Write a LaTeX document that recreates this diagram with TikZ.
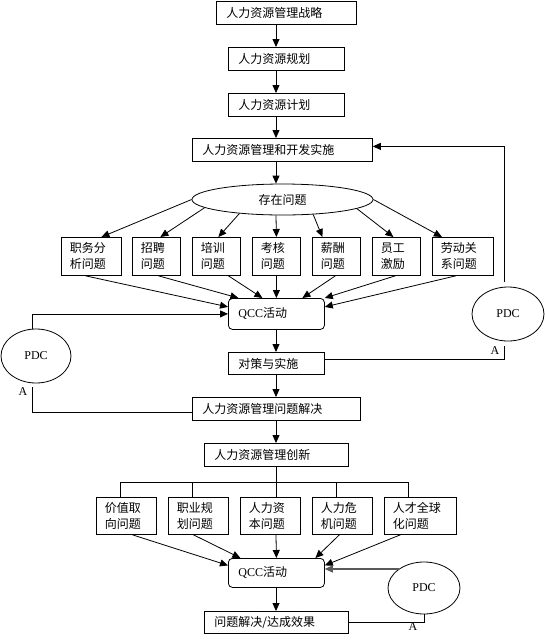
\documentclass[tikz,border=0pt]{standalone}
\usepackage{fontspec}
\setmainfont{Noto Sans CJK SC}
\newfontfamily\lat{Liberation Serif}
\usetikzlibrary{arrows.meta,shapes.geometric,calc}
\setlength{\parindent}{0pt}
\begin{document}
\begin{tikzpicture}[x=1pt,y=-1pt,
  ln/.style={line width=0.8pt},
  arr/.style={ln,-{Triangle[length=8pt,width=7pt]}},
  box/.style={draw,ln,anchor=north west,inner xsep=10pt,inner ysep=0pt,align=left,font=\fontsize{12}{16}\selectfont},
  sbox/.style={box,inner xsep=8.5pt},
  rbox/.style={box,rounded corners=4pt},
  sz/.style 2 args={text width=#1pt,minimum height=#2pt},
  ell/.style={draw,ln,ellipse,inner sep=0pt,font=\fontsize{12}{14}\selectfont},
  pdc/.style={ell,font=\lat\fontsize{12}{14}\selectfont},
  lab/.style={font=\lat\fontsize{12}{14}\selectfont,inner sep=0pt}
]
\useasboundingbox (0,0) rectangle (545,641);
\coordinate (ax) at (276,0);
\coordinate (rx) at (504,0);
\coordinate (lx) at (32,0);
% main column
\node[box,sz={120}{23}] (b1) at (216,1) {人力资源管理战略};
\node[box,sz={96}{23}] (b2) at (228,47) {人力资源规划};
\node[box,sz={96}{23}] (b3) at (228,93) {人力资源计划};
\node[box,sz={160}{23}] (b4) at (192,138) {人力资源管理和开发实施};
\node[ell,minimum width=181pt,minimum height=31pt] (ell) at (282.5,199.5) {存在问题};
% problem boxes
\node[sbox,sz={43}{38}] (A1) at (61,237) {职务分\\析问题};
\node[sbox,sz={31}{38}] (A2) at (132,237) {招聘\\问题};
\node[sbox,sz={31}{38}] (A3) at (192,237) {培训\\问题};
\node[sbox,sz={31}{38}] (A4) at (252,237) {考核\\问题};
\node[sbox,sz={31}{38}] (A5) at (312,237) {薪酬\\问题};
\node[sbox,sz={31}{38}] (A6) at (372,237) {员工\\激励};
\node[sbox,sz={44}{38}] (A7) at (432,237) {劳动关\\系问题};
\node[rbox,sz={76}{31}] (q1) at (228,298) {{\lat QCC}活动};
\node[box,sz={76}{22}] (dc) at (228,352) {对策与实施};
\node[box,sz={148}{23}] (jj) at (192,397) {人力资源管理问题解决};
\node[box,sz={124}{23}] (cx) at (204,443) {人力资源管理创新};
\coordinate (tr) at (276,482);
\node[sbox,sz={43}{37}] (B1) at (96,497) {价值取\\向问题};
\node[sbox,sz={43}{37}] (B2) at (168,497) {职业规\\划问题};
\node[sbox,sz={43}{37}] (B3) at (240,497) {人力资\\本问题};
\node[sbox,sz={43}{37}] (B4) at (312,497) {人力危\\机问题};
\node[sbox,sz={55}{37}] (B5) at (384,497) {人才全球\\化问题};
\node[rbox,sz={76}{29}] (q2) at (228,558) {{\lat QCC}活动};
\node[box,sz={124}{22}] (fin) at (204,611) {问题解决/达成效果};
% PDC ellipses
\node[pdc,minimum width=70pt,minimum height=54pt] (pdcL) at (36,356) {PDC};
\node[pdc,minimum width=72pt,minimum height=54pt] (pdcR) at (508,314) {PDC};
\node[pdc,minimum width=72pt,minimum height=52pt] (pdc3) at (424,588) {PDC};
\node[lab] (aR) at (495,351) {A};
\node[lab] (aL) at (23,392) {A};
\node[lab] (a3) at (413,627) {A};
% main arrows
\draw[arr] (b1.south -| ax) -- (b2.north -| ax);
\draw[arr] (b2.south -| ax) -- (b3.north -| ax);
\draw[arr] (b3.south -| ax) -- (b4.north -| ax);
\draw[arr] (b4.south -| ax) -- (ell.north -| ax);
% ellipse to problems
\draw[arr] (ell.180) -- ([xshift=10pt]A1.north);
\draw[arr] (ell.186.3) -- ([xshift=4pt]A2.north);
\draw[arr] (ell.198.8) -- ([xshift=2pt]A3.north);
\draw[arr] (ell.south -| ax) -- (A4.north);
\draw[arr] (ell.334.6) -- ([xshift=-14pt]A5.north);
\draw[arr] (ell.353.8) -- ([xshift=-3pt]A6.north);
\draw[arr] (ell.0) -- ([xshift=-21pt]A7.north);
% problems to QCC
\draw[arr] ([xshift=-6pt]A1.south) -- ([yshift=7pt]q1.west);
\draw[arr] ([xshift=2pt]A2.south) -- ([xshift=-38pt]q1.north);
\draw[arr] ([xshift=12pt]A3.south) -- ([xshift=-14pt]q1.north);
\draw[arr] (A4.south) -- (q1.north);
\draw[arr] ([xshift=-1pt]A5.south) -- ([xshift=26pt]q1.north);
\draw[arr] ([xshift=-1pt]A6.south) -- (q1.north east);
\draw[arr] ([xshift=-7pt]A7.south) -- ([yshift=7pt]q1.east);
\draw[arr] (q1.south -| ax) -- (dc.north -| ax);
\draw[arr] (dc.south -| ax) -- (jj.north -| ax);
\draw[arr] (jj.south -| ax) -- (cx.north -| ax);
% feedback right
\coordinate (fb) at ([yshift=3.5pt]b4.east);
\draw[arr] ($(rx |- pdcR.north)+(0,-5)$) -- (rx |- fb) -- (fb);
\coordinate (dcR) at ([yshift=4pt]dc.east);
\draw[ln] (dcR) -- (dcR -| rx) -- ($(rx |- pdcR.south)+(0,5)$);
% feedback left
\draw[arr] (lx |- pdcL.north) -- (lx |- q1.west) -- (q1.west);
\coordinate (jjL) at ([yshift=-3.5pt]jj.west);
\draw[ln] (jjL) -- (lx |- jjL) -- ($(lx |- pdcL.south)+(0,4)$);
% tree
\draw[ln] (cx.south -| ax) -- (tr);
\draw[ln] ([xshift=-6pt]B1.north) |- (tr);
\draw[ln] ([xshift=-12pt]B5.north) |- (tr);
\draw[ln] ([xshift=-6pt]B2.north) -- ([xshift=-6pt]B2.north |- tr);
\draw[ln] ([xshift=-6pt]B4.north) -- ([xshift=-6pt]B4.north |- tr);
\draw[ln] (B3.north -| ax) -- (tr);
% bottom problems to QCC2
\draw[arr] ([xshift=6pt]B1.south) -- ([yshift=7.5pt]q2.west);
\draw[arr] ([xshift=-5pt]B2.south) -- ([xshift=-36pt]q2.north);
\draw[arr] (B3.south -| ax) -- (q2.north);
\draw[arr] ([xshift=-3pt]B4.south) -- ([xshift=39pt]q2.north);
\draw[arr] ([xshift=-20pt]B5.south) -- ([yshift=7.5pt]q2.east);
\draw[arr] (q2.south -| ax) -- (fin.north -| ax);
\draw[arr,black!65,line width=1.1pt] (pdc3.143) -- (pdc3.143 -| q2.east);
\draw[ln] (fin.east) -- (fin.east -| pdc3.south) -- (pdc3.south);
\end{tikzpicture}
\end{document}
